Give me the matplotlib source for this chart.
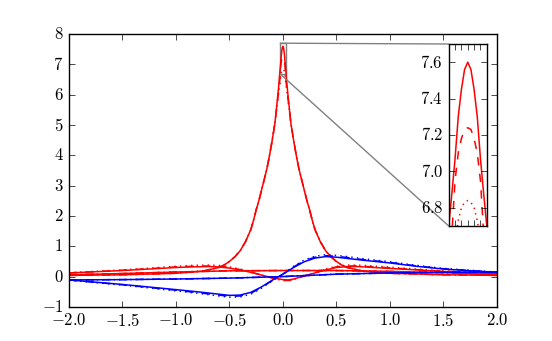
import numpy as np
import matplotlib
matplotlib.use('Agg')
import matplotlib.pyplot as plt
from mpl_toolkits.axes_grid1.inset_locator import mark_inset

# sharp peak (red)
peak_x = [-2.0, -1.5, -1.0, -0.75, -0.6, -0.55, -0.5, -0.45, -0.4, -0.35, -0.3, -0.275, -0.25,
          -0.225, -0.2, -0.175, -0.15, -0.125, -0.1, -0.075, -0.05, -0.04, -0.03, -0.025,
          -0.02, -0.015, -0.01, -0.005,
          0.0,
          0.005, 0.01, 0.015, 0.02, 0.025, 0.03, 0.04, 0.05, 0.075, 0.1, 0.125, 0.15,
          0.175, 0.2, 0.225, 0.25, 0.275, 0.3, 0.35, 0.4, 0.45, 0.5, 0.55, 0.6, 0.75,
          1.0, 1.5, 2.0]
peak_solid = [0.04, 0.06, 0.11, 0.18, 0.3, 0.38, 0.5, 0.65, 0.85, 1.15, 1.55, 1.85, 2.2,
              2.5, 2.85, 3.2, 3.55, 4.0, 4.5, 5.05, 5.9, 6.25, 6.7, 6.88,
              7.07, 7.3, 7.45, 7.56,
              7.6,
              7.56, 7.45, 7.3, 7.07, 6.88, 6.7, 6.25, 5.9, 5.05, 4.5, 4.0, 3.55,
              3.2, 2.85, 2.5, 2.2, 1.85, 1.55, 1.15, 0.85, 0.65, 0.5, 0.38, 0.3, 0.18,
              0.11, 0.06, 0.04]
peak_dashed = [0.04, 0.06, 0.11, 0.18, 0.3, 0.38, 0.5, 0.65, 0.85, 1.15, 1.55, 1.85, 2.2,
               2.5, 2.85, 3.2, 3.55, 4.0, 4.5, 5.05, 5.8, 6.1, 6.42, 6.66,
               6.95, 7.1, 7.18, 7.23,
               7.24,
               7.23, 7.18, 7.1, 6.95, 6.66, 6.42, 6.1, 5.8, 5.05, 4.5, 4.0, 3.55,
               3.2, 2.85, 2.5, 2.2, 1.85, 1.55, 1.15, 0.85, 0.65, 0.5, 0.38, 0.3, 0.18,
               0.11, 0.06, 0.04]
peak_dotted = [0.04, 0.06, 0.11, 0.18, 0.3, 0.38, 0.5, 0.65, 0.85, 1.15, 1.55, 1.85, 2.2,
               2.5, 2.85, 3.2, 3.55, 4.0, 4.5, 5.05, 5.75, 6.05, 6.3, 6.45,
               6.62, 6.73, 6.8, 6.83,
               6.84,
               6.83, 6.8, 6.73, 6.62, 6.45, 6.3, 6.05, 5.75, 5.05, 4.5, 4.0, 3.55,
               3.2, 2.85, 2.5, 2.2, 1.85, 1.55, 1.15, 0.85, 0.65, 0.5, 0.38, 0.3, 0.18,
               0.11, 0.06, 0.04]

# red curve with two lobes and a dip near zero
lobe_x = [-2.0, -1.5, -1.25, -1.0, -0.85, -0.7, -0.6, -0.5, -0.4, -0.3, -0.2, -0.1, 0.0,
          0.05, 0.1, 0.2, 0.3, 0.4, 0.5, 0.6, 0.7, 0.85, 1.0, 1.25, 1.5, 2.0]
lobe_solid = [0.12, 0.2, 0.25, 0.3, 0.32, 0.33, 0.32, 0.28, 0.22, 0.14, 0.05, -0.04, -0.1,
              -0.11, -0.08, 0.02, 0.12, 0.22, 0.3, 0.33, 0.33, 0.3, 0.27, 0.22, 0.17, 0.09]
lobe_dashed = [0.12, 0.21, 0.26, 0.32, 0.34, 0.35, 0.34, 0.3, 0.23, 0.15, 0.05, -0.05, -0.12,
               -0.13, -0.09, 0.02, 0.13, 0.23, 0.32, 0.35, 0.35, 0.32, 0.29, 0.23, 0.18, 0.1]
lobe_dotted = [0.13, 0.22, 0.28, 0.34, 0.37, 0.38, 0.37, 0.32, 0.25, 0.16, 0.05, -0.06, -0.13,
               -0.14, -0.1, 0.02, 0.14, 0.25, 0.34, 0.38, 0.38, 0.35, 0.31, 0.25, 0.19, 0.1]

# flat red curve
flat_x = [-2.0, -1.5, -1.0, -0.5, 0.0, 0.5, 1.0, 1.5, 2.0]
flat_red = [0.06, 0.1, 0.15, 0.19, 0.2, 0.2, 0.17, 0.13, 0.06]

# blue dispersive curve
disp_x = [-2.0, -1.5, -1.0, -0.75, -0.6, -0.5, -0.4, -0.3, -0.2, -0.1, 0.0, 0.1, 0.2,
          0.3, 0.4, 0.5, 0.6, 0.75, 1.0, 1.25, 1.5, 2.0]
disp_solid = [-0.11, -0.26, -0.43, -0.52, -0.58, -0.62, -0.61, -0.52, -0.34, -0.12, 0.08,
              0.3, 0.49, 0.61, 0.66, 0.64, 0.6, 0.54, 0.45, 0.34, 0.25, 0.14]
disp_dashed = [-0.11, -0.27, -0.45, -0.55, -0.61, -0.65, -0.64, -0.55, -0.36, -0.13, 0.08,
               0.32, 0.52, 0.64, 0.69, 0.67, 0.63, 0.56, 0.47, 0.35, 0.26, 0.14]
disp_dotted = [-0.12, -0.28, -0.47, -0.57, -0.64, -0.68, -0.67, -0.58, -0.38, -0.14, 0.08,
               0.34, 0.55, 0.67, 0.72, 0.7, 0.66, 0.59, 0.49, 0.37, 0.27, 0.15]

# flat blue curve
flat_blue = [-0.11, -0.1, -0.08, -0.05, 0.0, 0.08, 0.12, 0.14, 0.15]

plt.style.use('classic')
plt.rcParams['font.family'] = 'serif'
plt.rcParams['font.serif'] = ['cmr10']
plt.rcParams['mathtext.fontset'] = 'cm'
plt.rcParams['axes.formatter.use_mathtext'] = True
plt.rcParams['axes.unicode_minus'] = True
plt.rcParams['font.size'] = 12
plt.rcParams['lines.linewidth'] = 1.1


def draw(a):
    for ys, ls in [(peak_solid, '-'), (peak_dashed, '--'), (peak_dotted, ':')]:
        a.plot(peak_x, ys, color='r', ls=ls)
    for ys, ls in [(lobe_solid, '-'), (lobe_dashed, '--'), (lobe_dotted, ':')]:
        a.plot(lobe_x, ys, color='r', ls=ls)
    for ls in ['-', '--', ':']:
        a.plot(flat_x, flat_red, color='r', ls=ls)
    for ys, ls in [(disp_solid, '-'), (disp_dashed, '--'), (disp_dotted, ':')]:
        a.plot(disp_x, ys, color='b', ls=ls)
    for ls in ['-', '--', ':']:
        a.plot(flat_x, flat_blue, color='b', ls=ls)


fig = plt.figure(figsize=(5.52, 3.41), dpi=100, facecolor='white')
ax = fig.add_subplot(111)
draw(ax)
ax.set_xlim(-2, 2)
ax.set_ylim(-1, 8)

axins = ax.inset_axes([0.8876, 0.2967, 0.089, 0.667])
draw(axins)
axins.set_xlim(-0.03, 0.03)
axins.set_ylim(6.7, 7.7)
axins.set_xticks([-0.03, -0.02, -0.01, 0.0, 0.01, 0.02, 0.03])
axins.set_xticklabels([])
axins.set_yticks([6.8, 7.0, 7.2, 7.4, 7.6])
mark_inset(ax, axins, loc1=2, loc2=3, fc='none', ec='0.5')

fig.savefig('out.png', dpi=100, facecolor='white')
